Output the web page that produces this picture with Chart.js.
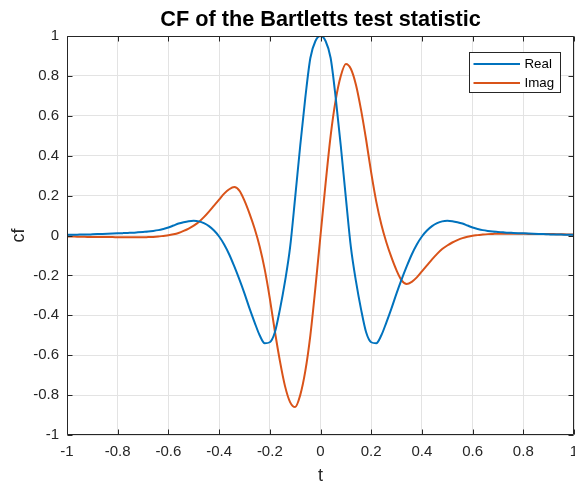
<!DOCTYPE html>
<html>
<head>
<meta charset="utf-8">
<script src="https://cdn.jsdelivr.net/npm/chart.js@4"></script>
<style>
  html, body { margin: 0; padding: 0; background: #ffffff; }
  #wrap { width: 575px; height: 484px; }
</style>
</head>
<body>
<div id="wrap"><canvas id="c" width="575" height="484"></canvas></div>
<script>
// ---- data ----
const tValues = [
 -1.00,-0.98,-0.96,-0.94,-0.92,-0.90,-0.88,-0.86,-0.84,-0.82,
 -0.80,-0.78,-0.76,-0.74,-0.72,-0.70,-0.68,-0.66,-0.64,-0.62,
 -0.60,-0.58,-0.56,-0.54,-0.52,-0.50,-0.48,-0.46,-0.44,-0.42,
 -0.40,-0.38,-0.36,-0.34,-0.32,-0.30,-0.28,-0.26,-0.24,-0.22,
 -0.20,-0.18,-0.16,-0.14,-0.12,-0.10,-0.08,-0.06,-0.04,-0.02,
  0.00,
  0.02, 0.04, 0.06, 0.08, 0.10, 0.12, 0.14, 0.16, 0.18, 0.20,
  0.22, 0.24, 0.26, 0.28, 0.30, 0.32, 0.34, 0.36, 0.38, 0.40,
  0.42, 0.44, 0.46, 0.48, 0.50, 0.52, 0.54, 0.56, 0.58, 0.60,
  0.62, 0.64, 0.66, 0.68, 0.70, 0.72, 0.74, 0.76, 0.78, 0.80,
  0.82, 0.84, 0.86, 0.88, 0.90, 0.92, 0.94, 0.96, 0.98, 1.00
];
const realValues = [
  0.003, 0.004, 0.004, 0.005, 0.005, 0.006, 0.007, 0.008, 0.009, 0.010,
  0.011, 0.012, 0.013, 0.014, 0.016, 0.018, 0.020, 0.023, 0.027, 0.033,
  0.040, 0.050, 0.060, 0.067, 0.072, 0.074, 0.071, 0.062, 0.047, 0.025,
 -0.005,-0.045,-0.095,-0.155,-0.220,-0.290,-0.365,-0.435,-0.500,-0.540,
 -0.535,-0.485,-0.370,-0.230,-0.060, 0.190, 0.450, 0.690, 0.890, 0.975,
  1.000,
  0.975, 0.890, 0.690, 0.450, 0.190,-0.060,-0.230,-0.370,-0.485,-0.535,
 -0.540,-0.500,-0.435,-0.365,-0.290,-0.220,-0.155,-0.095,-0.045,-0.005,
  0.025, 0.047, 0.062, 0.071, 0.074, 0.072, 0.067, 0.060, 0.050, 0.040,
  0.033, 0.027, 0.023, 0.020, 0.018, 0.016, 0.014, 0.013, 0.012, 0.011,
  0.010, 0.009, 0.008, 0.007, 0.006, 0.005, 0.005, 0.004, 0.004, 0.003
];
const imagValues = [
 -0.005,-0.005,-0.006,-0.006,-0.007,-0.007,-0.008,-0.008,-0.008,-0.008,
 -0.009,-0.009,-0.009,-0.009,-0.009,-0.009,-0.008,-0.007,-0.005,-0.002,
  0.001, 0.006, 0.013, 0.023, 0.035, 0.050, 0.068, 0.092, 0.120, 0.150,
  0.180, 0.210, 0.232, 0.243, 0.225, 0.175, 0.110, 0.035,-0.055,-0.170,
 -0.315,-0.480,-0.630,-0.755,-0.835,-0.860,-0.800,-0.680,-0.500,-0.260,
  0.000,
  0.260, 0.500, 0.680, 0.800, 0.860, 0.835, 0.755, 0.630, 0.480, 0.315,
  0.170, 0.055,-0.035,-0.110,-0.175,-0.225,-0.243,-0.232,-0.210,-0.180,
 -0.150,-0.120,-0.092,-0.068,-0.050,-0.035,-0.023,-0.013,-0.006,-0.001,
  0.002, 0.005, 0.007, 0.008, 0.009, 0.009, 0.009, 0.009, 0.009, 0.009,
  0.008, 0.008, 0.008, 0.008, 0.007, 0.007, 0.006, 0.006, 0.005, 0.005
];
const seriesNames = ['Real', 'Imag'];
const xTickValues = [-1, -0.8, -0.6, -0.4, -0.2, 0, 0.2, 0.4, 0.6, 0.8, 1];
const xTickLabels = ['-1', '-0.8', '-0.6', '-0.4', '-0.2', '0', '0.2', '0.4', '0.6', '0.8', '1'];
const yTickValues = [-1, -0.8, -0.6, -0.4, -0.2, 0, 0.2, 0.4, 0.6, 0.8, 1];
const yTickLabels = ['-1', '-0.8', '-0.6', '-0.4', '-0.2', '0', '0.2', '0.4', '0.6', '0.8', '1'];
const titleText = 'CF of the Bartletts test statistic';
const xTitle = 't';
const yTitle = 'cf';

// ---- styles ----
const colors = ['#0072BD', '#D95319'];
const axisColor = '#262626';
const gridColor = '#e3e3e3';
const FONT = '"Liberation Sans", Arial, Helvetica, sans-serif';

function labelFor(values, labels, v) {
  for (let i = 0; i < values.length; i++) {
    if (Math.abs(values[i] - v) < 1e-9) return labels[i];
  }
  return '';
}

const boxPlugin = {
  id: 'matlabBox',
  afterDatasetsDraw(chart) {
    const ctx = chart.ctx;
    const a = chart.chartArea;
    const xs = chart.scales.x, ys = chart.scales.y;
    ctx.save();
    ctx.strokeStyle = axisColor;
    ctx.lineWidth = 1;
    const L = Math.round(a.left) + 0.5, R = Math.round(a.right) - 0.5;
    const T = Math.round(a.top) + 0.5, B = Math.round(a.bottom) - 0.5;
    ctx.beginPath();
    ctx.rect(L, T, R - L, B - T);
    ctx.stroke();
    const tl = 5;
    ctx.beginPath();
    xTickValues.forEach(v => {
      const px = Math.round(xs.getPixelForValue(v)) + 0.5;
      ctx.moveTo(px, B); ctx.lineTo(px, B - tl);
      ctx.moveTo(px, T); ctx.lineTo(px, T + tl);
    });
    yTickValues.forEach(v => {
      const py = Math.round(ys.getPixelForValue(v)) + 0.5;
      ctx.moveTo(L, py); ctx.lineTo(L + tl, py);
      ctx.moveTo(R, py); ctx.lineTo(R - tl, py);
    });
    ctx.stroke();

    // legend box (upper right, inside axes)
    const bw = 91, bh = 40;
    const bx = Math.round(a.right - 14 - bw) + 0.5;
    const by = Math.round(a.top + 16) + 0.5;
    ctx.fillStyle = '#ffffff';
    ctx.fillRect(bx, by, bw, bh);
    ctx.strokeStyle = axisColor;
    ctx.lineWidth = 1;
    ctx.strokeRect(bx, by, bw, bh);
    ctx.font = '13.3px ' + FONT;
    ctx.textBaseline = 'middle';
    ctx.textAlign = 'left';
    chart.data.datasets.forEach((ds, i) => {
      const ly = by + 11.5 + i * 19;
      ctx.strokeStyle = ds.borderColor;
      ctx.lineWidth = 2;
      ctx.beginPath();
      ctx.moveTo(bx + 4, ly); ctx.lineTo(bx + 50.5, ly);
      ctx.stroke();
      ctx.fillStyle = '#000000';
      ctx.fillText(ds.label, bx + 55, ly + 0.5);
    });
    ctx.restore();
  }
};

const datasets = [realValues, imagValues].map((vals, i) => ({
  label: seriesNames[i],
  data: tValues.map((t, k) => ({ x: t, y: vals[k] })),
  borderColor: colors[i],
  backgroundColor: colors[i],
  borderWidth: 2,
  pointRadius: 0,
  cubicInterpolationMode: 'monotone',
  fill: false
}));

new Chart(document.getElementById('c'), {
  type: 'line',
  data: { datasets },
  plugins: [boxPlugin],
  options: {
    responsive: false,
    animation: false,
    devicePixelRatio: 1,
    layout: { padding: { left: 0, right: 1, top: 0, bottom: 0 } },
    plugins: {
      legend: { display: false },
      tooltip: { enabled: false },
      title: {
        display: true,
        text: titleText,
        fullSize: false,
        color: '#000000',
        font: { family: FONT, size: 21.7, weight: 'bold', lineHeight: 1.2 },
        padding: { top: 7, bottom: 3 }
      }
    },
    scales: {
      x: {
        type: 'linear',
        min: -1, max: 1,
        afterBuildTicks: s => { s.ticks = xTickValues.map(v => ({ value: v })); },
        afterFit: s => { s.height = 49; s.paddingLeft = 0; s.paddingRight = 0; },
        ticks: {
          autoSkip: false, maxRotation: 0, color: axisColor, padding: 8,
          font: { family: FONT, size: 15 },
          callback: v => labelFor(xTickValues, xTickLabels, v)
        },
        grid: { color: gridColor, lineWidth: 1, drawTicks: false },
        border: { display: false },
        title: {
          display: true, text: xTitle, color: axisColor,
          font: { family: FONT, size: 18 }, padding: { top: 0, bottom: -3 }
        }
      },
      y: {
        type: 'linear',
        min: -1, max: 1,
        afterBuildTicks: s => { s.ticks = yTickValues.map(v => ({ value: v })); },
        afterFit: s => { s.width = 67; s.paddingTop = 0; s.paddingBottom = 0; },
        ticks: {
          autoSkip: false, color: axisColor, padding: 8,
          font: { family: FONT, size: 15 },
          callback: v => labelFor(yTickValues, yTickLabels, v)
        },
        grid: { color: gridColor, lineWidth: 1, drawTicks: false },
        border: { display: false },
        title: {
          display: true, text: yTitle, color: axisColor,
          font: { family: FONT, size: 18 }, padding: { top: 8, bottom: 0 }
        }
      }
    }
  }
});
</script>
</body>
</html>
